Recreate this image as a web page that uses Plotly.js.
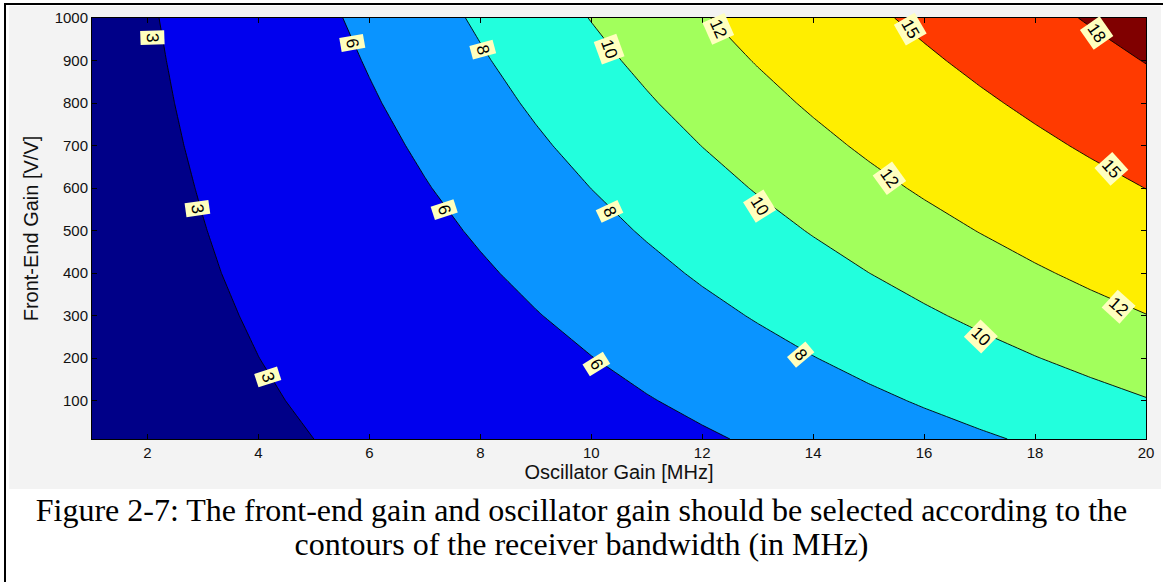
<!DOCTYPE html>
<html><head><meta charset="utf-8">
<script src="https://cdn.plot.ly/plotly-3.0.1.min.js"></script>
<style>
html,body{margin:0;padding:0;background:#fff;width:1163px;height:582px;overflow:hidden;}
#frame{position:absolute;left:4px;top:3px;width:1159px;height:579px;border-left:2px solid #000;border-top:2px solid #000;}
#plot{position:absolute;left:9px;top:6px;width:1152px;height:483px;}
#cap{position:absolute;left:0;top:493px;width:1163px;text-align:center;font-family:"Liberation Serif","Times New Roman",serif;font-size:32px;line-height:34px;color:#000;}
</style></head>
<body>
<div id="frame"></div>
<div id="plot"></div>
<div id="cap">Figure 2-7: The front-end gain and oscillator gain should be selected according to the<br>contours of the receiver bandwidth (in MHz)</div>
<script>
// Oscillator gain [MHz] grid
const oscGain = [1,2,3,4,5,6,7,8,9,10,11,12,13,14,15,16,17,18,19,20];
// Front-end gain [V/V] grid
const frontGain = [10,100,200,300,400,500,600,700,800,900,1000];
// Receiver bandwidth [MHz], one row per front-end gain
const bw10   = [1.40,1.80,2.20,2.60,3.00,3.40,3.80,4.20,4.60,5.00,5.40,5.80,6.20,6.60,7.00,7.40,7.80,8.20,8.60,9.00];
const bw100  = [1.45,1.89,2.34,2.78,3.23,3.68,4.12,4.57,5.01,5.46,5.91,6.35,6.80,7.24,7.69,8.14,8.58,9.03,9.47,9.92];
const bw200  = [1.50,1.99,2.49,2.99,3.49,3.98,4.48,4.98,5.47,5.97,6.47,6.96,7.46,7.96,8.46,8.95,9.45,9.95,10.44,10.94];
const bw300  = [1.55,2.10,2.64,3.19,3.74,4.29,4.84,5.38,5.93,6.48,7.03,7.58,8.12,8.67,9.22,9.77,10.32,10.86,11.41,11.96];
const bw400  = [1.60,2.20,2.80,3.40,4.00,4.59,5.19,5.79,6.39,6.99,7.59,8.19,8.79,9.39,9.99,10.58,11.18,11.78,12.38,12.98];
const bw500  = [1.65,2.30,2.95,3.60,4.25,4.90,5.55,6.20,6.85,7.50,8.15,8.80,9.45,10.10,10.75,11.40,12.05,12.70,13.35,14.00];
const bw600  = [1.70,2.40,3.10,3.80,4.51,5.21,5.91,6.61,7.31,8.01,8.71,9.41,10.11,10.81,11.52,12.22,12.92,13.62,14.32,15.02];
const bw700  = [1.75,2.50,3.26,4.01,4.76,5.51,6.26,7.02,7.77,8.52,9.27,10.02,10.78,11.53,12.28,13.03,13.78,14.54,15.29,16.04];
const bw800  = [1.80,2.61,3.41,4.21,5.02,5.82,6.62,7.42,8.23,9.03,9.83,10.64,11.44,12.24,13.05,13.85,14.65,15.45,16.26,17.06];
const bw900  = [1.85,2.71,3.56,4.42,5.27,6.12,6.98,7.83,8.69,9.54,10.39,11.25,12.10,12.96,13.81,14.66,15.52,16.37,17.23,18.08];
const bw1000 = [1.91,2.81,3.72,4.62,5.53,6.43,7.34,8.24,9.15,10.05,10.96,11.86,12.77,13.67,14.58,15.48,16.39,17.29,18.20,19.10];
const bandwidth = [bw10,bw100,bw200,bw300,bw400,bw500,bw600,bw700,bw800,bw900,bw1000];

// Contour levels and band colours
const levels = [3,6,8,10,12,15,18];
const bandColors = ['#000088','#0000ee','#0a94ff','#22ffdd','#a2ff5c','#ffee00','#ff3a00','#800000'];

// Contour labels (positions)
const labelX = [2.08,2.90,4.16,5.70,7.35,10.10,8.05,10.33,13.77,10.33,13.04,17.02,12.30,15.38,19.50,15.76,19.37,19.10];
const labelY = [953,552,156,941,550,186,927,545,208,927,557,250,974,623,321,974,646,965];
const labelText = ['3','3','3','6','6','6','8','8','8','10','10','10','12','12','12','15','15','18'];
const labelAngle = [88,82,72,80,72,58,75,65,50,70,58,44,66,54,42,60,48,55];

// Each band: shade the region where bandwidth exceeds the level
const traces = levels.map((L,i)=>({
  type:'contour', x:oscGain, y:frontGain, z:bandwidth,
  contours:{type:'constraint', operation:'<', value:L},
  fillcolor:bandColors[i+1],
  line:{color:'#000', width:0.9, smoothing:0},
  showscale:false, hoverinfo:'skip', showlegend:false
}));

const annotations = labelText.map((t,i)=>({
  x:labelX[i], y:labelY[i], xref:'x', yref:'y', text:t, textangle:labelAngle[i],
  showarrow:false, bgcolor:'#ffffbe', borderpad:2,
  font:{family:'Liberation Sans, Arial, sans-serif', size:17, color:'#000'}
}));

const axisFont = {family:'Liberation Sans, Arial, sans-serif', size:15, color:'#111'};
const titleFont = {family:'Liberation Sans, Arial, sans-serif', size:20, color:'#111'};
const layout = {
  width:1152, height:483,
  margin:{l:83, r:15, t:12, b:50},
  paper_bgcolor:'#f3f3f3', plot_bgcolor:bandColors[0],
  xaxis:{range:[1,20], tickvals:[2,4,6,8,10,12,14,16,18,20], ticks:'inside', ticklen:5, tickcolor:'#000',
    showline:true, linecolor:'#000', linewidth:1, mirror:'ticks', showgrid:false, zeroline:false,
    tickfont:axisFont, title:{text:'Oscillator Gain [MHz]', font:titleFont, standoff:1}},
  yaxis:{range:[10,1000], tickvals:[100,200,300,400,500,600,700,800,900,1000], ticks:'inside', ticklen:5, tickcolor:'#000',
    showline:true, linecolor:'#000', linewidth:1, mirror:'ticks', showgrid:false, zeroline:false,
    tickfont:axisFont, title:{text:'Front-End Gain [V/V]', font:titleFont, standoff:10}},
  annotations:annotations
};
Plotly.newPlot('plot', traces, layout, {displayModeBar:false, staticPlot:true});
</script>
</body></html>
